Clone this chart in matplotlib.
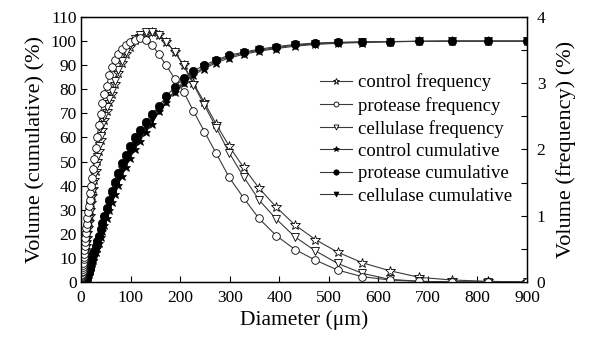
import matplotlib
matplotlib.use("Agg")
import matplotlib.pyplot as plt
from matplotlib.ticker import MultipleLocator

plt.rcParams['font.family'] = ['Liberation Serif', 'DejaVu Serif']
plt.rcParams['mathtext.fontset'] = 'stix'

# particle size bins (um)
diam = [2.1, 2.3, 2.5, 2.7, 3.0, 3.3, 3.6, 3.9, 4.3, 4.7,
        5.2, 5.7, 6.2, 6.8, 7.5, 8.2, 9.0, 9.9, 10.8, 11.9,
        13.0, 14.3, 15.7, 17.2, 18.8, 20.7, 22.7, 24.8, 27.2, 29.9,
        32.8, 35.9, 39.4, 43.2, 47.4, 51.9, 56.9, 62.4, 68.5, 75.1,
        82.3, 90.3, 99, 108.5, 119, 130.5, 143, 157, 172, 189,
        207, 227, 249, 273, 299, 328, 359, 394, 432, 473,
        518, 568, 623, 683, 749, 821, 900]

# volume frequency (%)
control_freq = [0.04, 0.05, 0.07, 0.08, 0.09, 0.11, 0.13, 0.15, 0.17, 0.20,
                0.23, 0.27, 0.30, 0.34, 0.39, 0.43, 0.48, 0.55, 0.60, 0.67,
                0.74, 0.82, 0.90, 0.99, 1.08, 1.19, 1.30, 1.41, 1.54, 1.67,
                1.82, 1.97, 2.14, 2.30, 2.45, 2.58, 2.71, 2.84, 2.99, 3.16,
                3.30, 3.44, 3.55, 3.65, 3.72, 3.76, 3.77, 3.73, 3.63, 3.47,
                3.28, 3.00, 2.71, 2.38, 2.05, 1.73, 1.42, 1.13, 0.86, 0.64,
                0.45, 0.29, 0.17, 0.07, 0.03, 0.01, 0.00]
protease_freq = [0.07, 0.09, 0.10, 0.12, 0.15, 0.17, 0.20, 0.22, 0.26, 0.29,
                 0.34, 0.38, 0.43, 0.48, 0.54, 0.60, 0.67, 0.74, 0.81, 0.88,
                 0.96, 1.05, 1.14, 1.24, 1.34, 1.45, 1.57, 1.70, 1.85, 2.02,
                 2.19, 2.37, 2.54, 2.70, 2.84, 2.96, 3.13, 3.25, 3.35, 3.44,
                 3.51, 3.57, 3.62, 3.66, 3.68, 3.65, 3.58, 3.44, 3.27, 3.07,
                 2.87, 2.58, 2.27, 1.94, 1.58, 1.27, 0.96, 0.70, 0.49, 0.33,
                 0.18, 0.08, 0.03, 0.01, 0.00, 0.00, 0.00]
cellulase_freq = [0.05, 0.06, 0.07, 0.08, 0.10, 0.12, 0.14, 0.16, 0.19, 0.21,
                  0.25, 0.28, 0.32, 0.36, 0.41, 0.45, 0.51, 0.58, 0.64, 0.71,
                  0.78, 0.87, 0.95, 1.05, 1.14, 1.25, 1.36, 1.48, 1.61, 1.75,
                  1.89, 2.05, 2.21, 2.37, 2.51, 2.64, 2.76, 2.89, 3.04, 3.20,
                  3.34, 3.47, 3.57, 3.67, 3.73, 3.77, 3.77, 3.73, 3.63, 3.47,
                  3.27, 2.98, 2.67, 2.33, 1.95, 1.59, 1.24, 0.95, 0.68, 0.47,
                  0.28, 0.13, 0.04, 0.01, 0.00, 0.00, 0.00]

# cumulative volume (%), from 9.9 um upward
cum_diam = diam[17:]
control_cum = [0, 0.5, 1.1, 1.8, 2.6, 3.5, 4.4, 5.4, 6.6, 7.9,
               9.2, 10.8, 12.5, 14.3, 16.3, 18.6, 21.0, 23.7, 26.6, 29.7,
               33.0, 36.6, 40.3, 44.0, 47.7, 51.4, 55.0, 58.6, 62.1, 65.6,
               70.8, 74.8, 78.8, 82.5, 85.8, 88.6, 91.0, 93.0, 94.5, 95.8,
               96.9, 97.9, 98.6, 99.1, 99.4, 99.7, 99.9, 100, 100, 100]
protease_cum = [0, 0.6, 1.4, 2.2, 3.2, 4.3, 5.4, 6.6, 8.0, 9.5,
                11.1, 12.9, 14.9, 17.0, 19.3, 21.9, 24.6, 27.6, 30.8, 34.2,
                37.8, 41.6, 45.4, 49.2, 52.9, 56.5, 60.0, 63.3, 66.5, 69.7,
                73.0, 77.0, 81.0, 84.7, 87.6, 90.0, 92.2, 94.1, 95.4, 96.6,
                97.7, 98.6, 99.2, 99.5, 99.7, 99.8, 99.9, 100, 100, 100]
cellulase_cum = [0, 0.5, 1.2, 2.0, 2.9, 3.9, 4.9, 6.0, 7.3, 8.7,
                 10.1, 11.8, 13.7, 15.6, 17.7, 20.2, 22.8, 25.6, 28.7, 31.9,
                 35.4, 39.1, 42.8, 46.6, 50.3, 54.0, 57.5, 61.0, 64.3, 67.6,
                 71.2, 75.2, 79.3, 83.1, 86.4, 89.2, 91.6, 93.6, 95.0, 96.2,
                 97.3, 98.3, 98.9, 99.3, 99.6, 99.8, 99.9, 100, 100, 100]

fig = plt.figure(figsize=(5.89, 3.40), dpi=100)
ax = fig.add_axes([0.1375, 0.1706, 0.7572, 0.7794])
ax2 = ax.twinx()

lc = '#3a3a3a'
lw = 0.8

h4, = ax.plot(cum_diam, control_cum, color=lc, lw=lw, marker='*', ms=6.5,
              mfc='black', mec='black', mew=0.5, label='control cumulative')
h6, = ax.plot(cum_diam, cellulase_cum, color=lc, lw=lw, marker='v', ms=5.5,
              mfc='black', mec='black', mew=0.5, label='cellulase cumulative')
h5, = ax.plot(cum_diam, protease_cum, color=lc, lw=lw, marker='o', ms=6,
              mfc='black', mec='black', mew=0.5, label='protease cumulative')

h1, = ax2.plot(diam, control_freq, color=lc, lw=lw, marker='*', ms=7,
               mfc='white', mec='black', mew=0.6, label='control frequency')
h3, = ax2.plot(diam, cellulase_freq, color=lc, lw=lw, marker='v', ms=5.5,
               mfc='white', mec='black', mew=0.6, label='cellulase frequency')
h2, = ax2.plot(diam, protease_freq, color=lc, lw=lw, marker='o', ms=5.5,
               mfc='white', mec='black', mew=0.6, label='protease frequency')

ax.set_xlim(0, 900)
ax.set_ylim(0, 110)
ax2.set_ylim(0, 4)

ax.xaxis.set_major_locator(MultipleLocator(100))
ax.yaxis.set_major_locator(MultipleLocator(10))
ax2.yaxis.set_major_locator(MultipleLocator(1))
ax2.yaxis.set_minor_locator(MultipleLocator(0.5))

ax.tick_params(axis='both', direction='in', length=4, width=0.8, labelsize=12.5, pad=3)
ax.tick_params(axis='x', pad=6)
ax2.tick_params(axis='y', which='both', direction='in', width=0.8, labelsize=12.5, pad=7)
ax2.tick_params(axis='y', which='major', length=4)
ax2.tick_params(axis='y', which='minor', length=4)

for a in (ax, ax2):
    for s in a.spines.values():
        s.set_linewidth(0.9)

ax.set_xlabel('Diameter (μm)', fontsize=15.5, labelpad=3)
ax.set_ylabel('Volume (cumulative) (%)', fontsize=16, labelpad=4)
ax2.set_ylabel('Volume (frequency) (%)', fontsize=16, labelpad=8)

ax2.legend(handles=[h1, h2, h3, h4, h5, h6], loc='upper left',
           bbox_to_anchor=(0.52, 0.815), frameon=False, fontsize=13.5,
           handlelength=1.7, handletextpad=0.3, labelspacing=0.28,
           markerscale=0.65, borderaxespad=0)

fig.savefig('out.png', dpi=100)
